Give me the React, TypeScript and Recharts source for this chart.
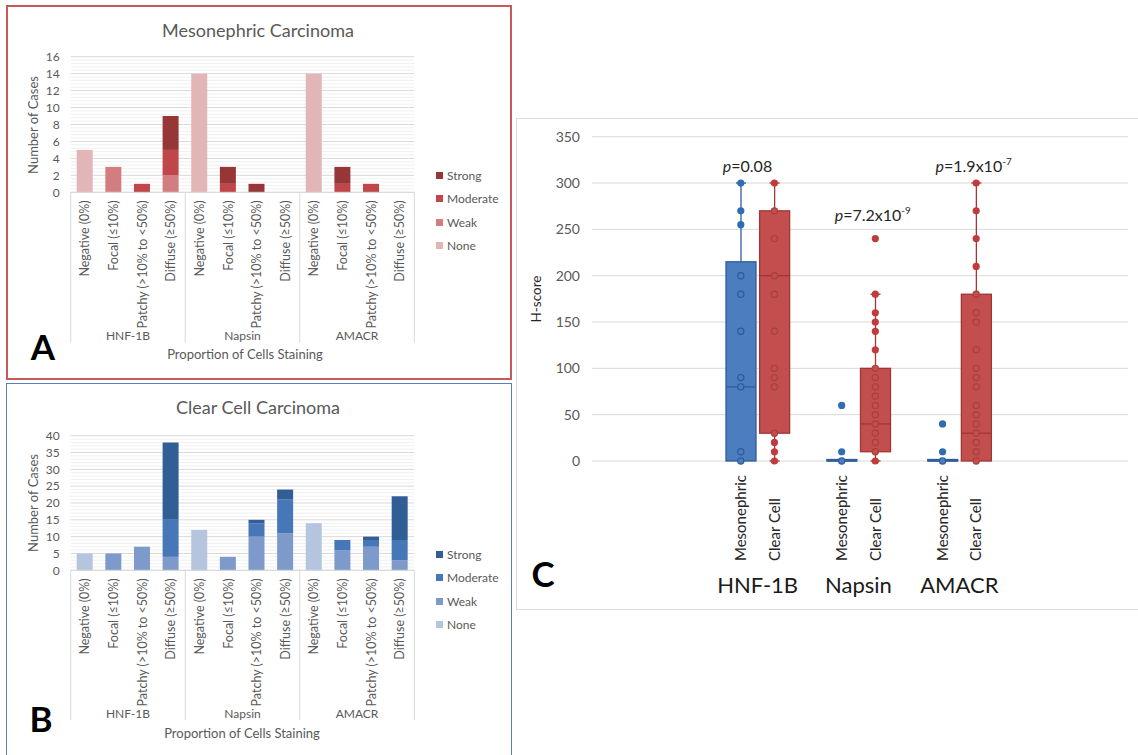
import React from "react";
import { BarChart, Bar, XAxis, YAxis, CartesianGrid, ComposedChart, Scatter } from "recharts";

const stainCats = ["Negative (0%)", "Focal (≤10%)", "Patchy (>10% to <50%)", "Diffuse (≥50%)"];
const markers = ["HNF-1B", "Napsin", "AMACR"];
const intensities = ["None", "Weak", "Moderate", "Strong"];

// panel A - mesonephric carcinoma, cases per staining category
const mesoNone = [5, 0, 0, 0, 14, 0, 0, 0, 14, 0, 0, 0];
const mesoWeak = [0, 3, 0, 2, 0, 0, 0, 0, 0, 0, 0, 0];
const mesoModerate = [0, 0, 1, 3, 0, 1, 0, 0, 0, 1, 1, 0];
const mesoStrong = [0, 0, 0, 4, 0, 2, 1, 0, 0, 2, 0, 0];
const mesoTicks = [0, 2, 4, 6, 8, 10, 12, 14, 16];

// panel B - clear cell carcinoma
const ccNone = [5, 0, 0, 0, 12, 0, 0, 0, 14, 0, 0, 0];
const ccWeak = [0, 5, 7, 4, 0, 4, 10, 11, 0, 6, 7, 3];
const ccModerate = [0, 0, 0, 11, 0, 0, 4, 10, 0, 3, 2, 6];
const ccStrong = [0, 0, 0, 23, 0, 0, 1, 3, 0, 0, 1, 13];
const ccTicks = [0, 5, 10, 15, 20, 25, 30, 35, 40];

// panel C - H-score box plots
const boxCats = [
  "HNF-1B|Mesonephric", "HNF-1B|Clear Cell", "gap1",
  "Napsin|Mesonephric", "Napsin|Clear Cell", "gap2",
  "AMACR|Mesonephric", "AMACR|Clear Cell",
];
const boxMin = [0, 0, null, 0, 0, null, 0, 0];
const boxQ1 = [0, 30, null, 0, 10, null, 0, 0];
const boxMedian = [80, 200, null, 0, 40, null, 0, 30];
const boxQ3 = [215, 270, null, 1, 100, null, 1, 180];
const boxMax = [300, 300, null, 1, 180, null, 1, 300];
const boxPoints = [
  [300, 270, 255, 200, 180, 140, 90, 80, 10, 0],
  [300, 270, 240, 200, 180, 140, 100, 90, 80, 30, 20, 10, 0],
  [],
  [60, 10, 0],
  [240, 180, 160, 150, 140, 120, 100, 90, 80, 70, 60, 50, 40, 30, 20, 10, 0],
  [],
  [40, 10, 0],
  [300, 270, 240, 210, 180, 160, 150, 120, 100, 90, 80, 60, 50, 40, 30, 20, 10, 0],
];
const hTicks = [0, 50, 100, 150, 200, 250, 300, 350];
const pCats = ["HNF-1B|Mesonephric", "Napsin|Mesonephric", "AMACR|Mesonephric"];
const pHeights = [318, 265, 318];
const pMantissa = ["0.08", "7.2x10", "1.9x10"];
const pExponent = ["", "-9", "-7"];

const FONT = "Lato, 'Open Sans', sans-serif";
const TEXT = "#595959";
const GRID = "#d9d9d9";
const MINOR = "#f0f0f0";
const mesoColors = ["#e2b5b6", "#d27e80", "#c0464a", "#973637"];
const ccColors = ["#b5c5e0", "#7d9acb", "#4677b8", "#325e96"];
const cohortStyle: Record<string, { fill: string; stroke: string; dot: string; ring: string }> = {
  Mesonephric: { fill: "#4b7dbf", stroke: "#2f5d9d", dot: "#2f6cb4", ring: "#2c5c9c" },
  "Clear Cell": { fill: "#c24f4d", stroke: "#a33533", dot: "#c23b3c", ring: "#a8403e" },
};
const pShift = [-18, -7, -7];

function buildRows(series: number[][]) {
  const rows: any[] = [];
  markers.forEach((m, g) =>
    stainCats.forEach((s, j) => {
      const row: any = { cat: `${m}|${s}` };
      intensities.forEach((name, k) => (row[name] = series[k][g * 4 + j]));
      rows.push(row);
    })
  );
  return rows;
}

const mesoRows = buildRows([mesoNone, mesoWeak, mesoModerate, mesoStrong]);
const ccRows = buildRows([ccNone, ccWeak, ccModerate, ccStrong]);

const minorValues = (step: number, max: number, major: number) => {
  const out: number[] = [];
  for (let k = 1; k * step < max + 1e-9; k++) {
    if (k % Math.round(major / step) !== 0) out.push(+(k * step).toFixed(2));
  }
  return out;
};

const boxRows = boxCats.map((cat, i) => {
  const has = boxMin[i] != null;
  const pIdx = pCats.indexOf(cat);
  return {
    cat,
    cohort: cat.split("|")[1] ?? null,
    base: has ? boxMin[i] : 0,
    lowW: has ? (boxQ1[i] as number) - (boxMin[i] as number) : 0,
    box: has ? (boxQ3[i] as number) - (boxQ1[i] as number) : 0,
    highW: has ? (boxMax[i] as number) - (boxQ3[i] as number) : 0,
    q1: boxQ1[i],
    q3: boxQ3[i],
    med: boxMedian[i],
    pts: boxPoints[i],
    p: pIdx >= 0 ? { y: pHeights[pIdx], m: pMantissa[pIdx], e: pExponent[pIdx], dx: pShift[pIdx] } : null,
  };
});
const maxPts = Math.max(...boxPoints.map((p) => p.length));

function StainTick(props: any) {
  const { x, y, payload, index } = props;
  const half = payload?.offset || 14.3;
  const axisY = y - 8;
  const label = String(payload.value).split("|")[1];
  return (
    <g>
      <text x={x} y={y} transform={`rotate(-90 ${x} ${y})`} textAnchor="end" dy="0.35em"
        fontSize={12.5} fill={TEXT} fontFamily={FONT}>{label}</text>
      {index % 4 === 0 && <line x1={x - half} x2={x - half} y1={axisY} y2={axisY + 150} stroke={GRID} />}
      {index === 11 && <line x1={x + half} x2={x + half} y1={axisY} y2={axisY + 150} stroke={GRID} />}
      {index % 4 === 1 && (
        <text x={x + half} y={axisY + 143} textAnchor="middle" dy="0.35em" fontSize={12} fill={TEXT} fontFamily={FONT}>
          {markers[Math.floor(index / 4)]}
        </text>
      )}
    </g>
  );
}

function StackedPanel({ rows, colors, ticks, minor, marginTop, xAxisHeight }: any) {
  return (
    <BarChart width={512} height={380} data={rows} barSize={16}
      margin={{ top: marginTop, right: 97.7, bottom: 0, left: 20 }}>
      <CartesianGrid vertical={false} horizontalValues={minor} stroke={MINOR} />
      <CartesianGrid vertical={false} stroke={GRID} />
      <XAxis dataKey="cat" interval={0} height={xAxisHeight} tickSize={0} tickMargin={8}
        axisLine={{ stroke: GRID }} tickLine={false} tick={<StainTick />} />
      <YAxis width={50.7} domain={[0, ticks[ticks.length - 1]]} ticks={ticks} interval={0}
        axisLine={false} tickLine={false} tickSize={0} tickMargin={11}
        tick={{ fontSize: 12, fill: TEXT, fontFamily: FONT }} />
      {intensities.map((name, k) => (
        <Bar key={name} dataKey={name} stackId="s" fill={colors[k]} isAnimationActive={false} />
      ))}
    </BarChart>
  );
}

function CohortTick(props: any) {
  const { x, y, payload } = props;
  const [group, cohort] = String(payload.value).split("|");
  if (!cohort) return null;
  const half = payload?.offset || 16.8;
  const ty = y + 100;
  return (
    <g>
      <text x={x} y={ty} transform={`rotate(-90 ${x} ${ty})`} textAnchor="start" dy="0.35em"
        fontSize={15} fill="#262626" fontFamily={FONT}>{cohort}</text>
      {cohort === "Mesonephric" && (
        <text x={x + half} y={y + 124} textAnchor="middle" dy="0.35em" fontSize={22} fill="#1a1a1a" fontFamily={FONT}>
          {group}
        </text>
      )}
    </g>
  );
}

function BoxShape(props: any) {
  const { x, y, width, height, payload } = props;
  const c = cohortStyle[payload?.cohort];
  if (!c || !Number.isFinite(y)) return null;
  const h = Math.max(height, 1.5);
  const top = height > 1.5 ? y : y + height - 1.5;
  const medY = payload.q3 > payload.q1 ? y + (height * (payload.q3 - payload.med)) / (payload.q3 - payload.q1) : y + height;
  return (
    <g>
      <rect x={x} y={top} width={width} height={h} fill={c.fill} stroke={c.stroke} strokeWidth={1.3} />
      <line x1={x} x2={x + width} y1={medY} y2={medY} stroke={c.stroke} strokeWidth={1.3} />
    </g>
  );
}

const makeWhisker = (capAtTop: boolean) => (props: any) => {
  const { x, y, width, height, payload } = props;
  const c = cohortStyle[payload?.cohort];
  if (!c || !(height > 0)) return null;
  const cx = x + width / 2;
  const capY = capAtTop ? y : y + height;
  return (
    <g>
      <line x1={cx} x2={cx} y1={y} y2={y + height} stroke={c.stroke} strokeWidth={1.3} />
      <line x1={cx - 5} x2={cx + 5} y1={capY} y2={capY} stroke={c.stroke} strokeWidth={1.3} />
    </g>
  );
};
const WhiskerLow = makeWhisker(false);
const WhiskerHigh = makeWhisker(true);

const makePoint = (i: number) => (props: any) => {
  const { cx, cy, payload } = props;
  const v = payload?.pts?.[i];
  const c = cohortStyle[payload?.cohort];
  if (v == null || !c || !Number.isFinite(cx) || !Number.isFinite(cy)) return null;
  const inside = v >= payload.q1 && v <= payload.q3;
  return inside ? (
    <circle cx={cx} cy={cy} r={3.1} fill={c.fill} stroke={c.ring} strokeWidth={1.2} />
  ) : (
    <circle cx={cx} cy={cy} r={3.6} fill={c.dot} />
  );
};

function PLabel(props: any) {
  const { cx, cy, payload } = props;
  const p = payload?.p;
  if (!p || !Number.isFinite(cx) || !Number.isFinite(cy)) return null;
  return (
    <text x={cx + p.dx} y={cy} dy="0.35em" textAnchor="start" fontSize={16} fill="#262626" fontFamily={FONT}>
      <tspan fontStyle="italic">p</tspan>={p.m}
      {p.e && <tspan dy={-7} fontSize={10}>{p.e}</tspan>}
    </text>
  );
}

function BoxPanel() {
  return (
    <ComposedChart width={622} height={492} data={boxRows} barSize={30}
      margin={{ top: 18.7, right: 10, bottom: 0, left: 20 }}>
      <CartesianGrid vertical={false} stroke={GRID} />
      <XAxis dataKey="cat" interval={0} height={149} padding={{ left: 132, right: 135 }}
        tickSize={0} tickMargin={0} axisLine={false} tickLine={false} tick={<CohortTick />} />
      <YAxis width={56} domain={[0, 350]} ticks={hTicks} interval={0} axisLine={false} tickLine={false}
        tickSize={0} tickMargin={12} tick={{ fontSize: 14, fill: TEXT, fontFamily: FONT }} />
      <Bar dataKey="base" stackId="b" fill="transparent" isAnimationActive={false} />
      <Bar dataKey="lowW" stackId="b" shape={WhiskerLow} isAnimationActive={false} />
      <Bar dataKey="box" stackId="b" shape={BoxShape} isAnimationActive={false} />
      <Bar dataKey="highW" stackId="b" shape={WhiskerHigh} isAnimationActive={false} />
      {Array.from({ length: maxPts }, (_, i) => (
        <Scatter key={i} dataKey={(d: any) => d.pts?.[i]} shape={makePoint(i)} isAnimationActive={false} />
      ))}
      <Scatter dataKey={(d: any) => d.p?.y} shape={PLabel} isAnimationActive={false} />
    </ComposedChart>
  );
}

function Legend({ colors, top }: { colors: string[]; top: number }) {
  return (
    <>
      {intensities.map((name, k) => {
        const row = 3 - k;
        return (
          <div key={name} style={{ position: "absolute", left: 436, top: top + row * 23.6 - 8, height: 16,
            display: "flex", alignItems: "center", fontSize: 12, color: TEXT, fontFamily: FONT }}>
            <span style={{ width: 7, height: 7, background: colors[k], marginRight: 4, display: "inline-block" }} />
            {name}
          </div>
        );
      })}
    </>
  );
}

function Label({ x, y, text, size, rotate = false, color = TEXT, weight = 400 }: any) {
  return (
    <div style={{ position: "absolute", left: x, top: y, whiteSpace: "nowrap", lineHeight: 1, fontSize: size,
      color, fontWeight: weight, fontFamily: FONT,
      transform: `translate(-50%, -50%)${rotate ? " rotate(-90deg)" : ""}` }}>
      {text}
    </div>
  );
}

export default function App() {
  return (
    <div style={{ position: "absolute", left: 0, top: 0, width: 1138, height: 755, overflow: "hidden", background: "#fff" }}>
      <div style={{ position: "absolute", left: 6, top: 4.5, width: 505.5, height: 375, boxSizing: "border-box", border: "2px solid #c85a5a" }} />
      <div style={{ position: "absolute", left: 6, top: 383, width: 505.5, height: 390, boxSizing: "border-box", border: "1.5px solid #5a80b8" }} />
      <div style={{ position: "absolute", left: 516, top: 118, width: 640, height: 492, boxSizing: "border-box", border: "1px solid #dcdcdc" }} />

      <div style={{ position: "absolute", left: 0, top: 0 }}>
        <StackedPanel rows={mesoRows} colors={mesoColors} ticks={mesoTicks} minor={minorValues(0.4, 16, 2)}
          marginTop={56.7} xAxisHeight={187.7} />
      </div>
      <div style={{ position: "absolute", left: 0, top: 380 }}>
        <StackedPanel rows={ccRows} colors={ccColors} ticks={ccTicks} minor={minorValues(1, 40, 5)}
          marginTop={55.7} xAxisHeight={189.7} />
      </div>
      <div style={{ position: "absolute", left: 516, top: 118 }}>
        <BoxPanel />
      </div>

      <Label x={258} y={30} text="Mesonephric Carcinoma" size={18} />
      <Label x={33} y={125} text="Number of Cases" size={13} rotate />
      <Label x={245} y={354} text="Proportion of Cells Staining" size={13} />
      <Legend colors={mesoColors} top={175} />
      <Label x={43} y={346} text="A" size={35} color="#000" weight={700} />

      <Label x={258} y={407} text="Clear Cell Carcinoma" size={18} />
      <Label x={33} y={503} text="Number of Cases" size={13} rotate />
      <Label x={242} y={733} text="Proportion of Cells Staining" size={13} />
      <Legend colors={ccColors} top={554} />
      <Label x={41} y={718} text="B" size={35} color="#000" weight={700} />

      <Label x={537} y={299} text="H-score" size={13.5} rotate color="#262626" />
      <Label x={543} y={573} text="C" size={35} color="#000" weight={700} />
    </div>
  );
}
